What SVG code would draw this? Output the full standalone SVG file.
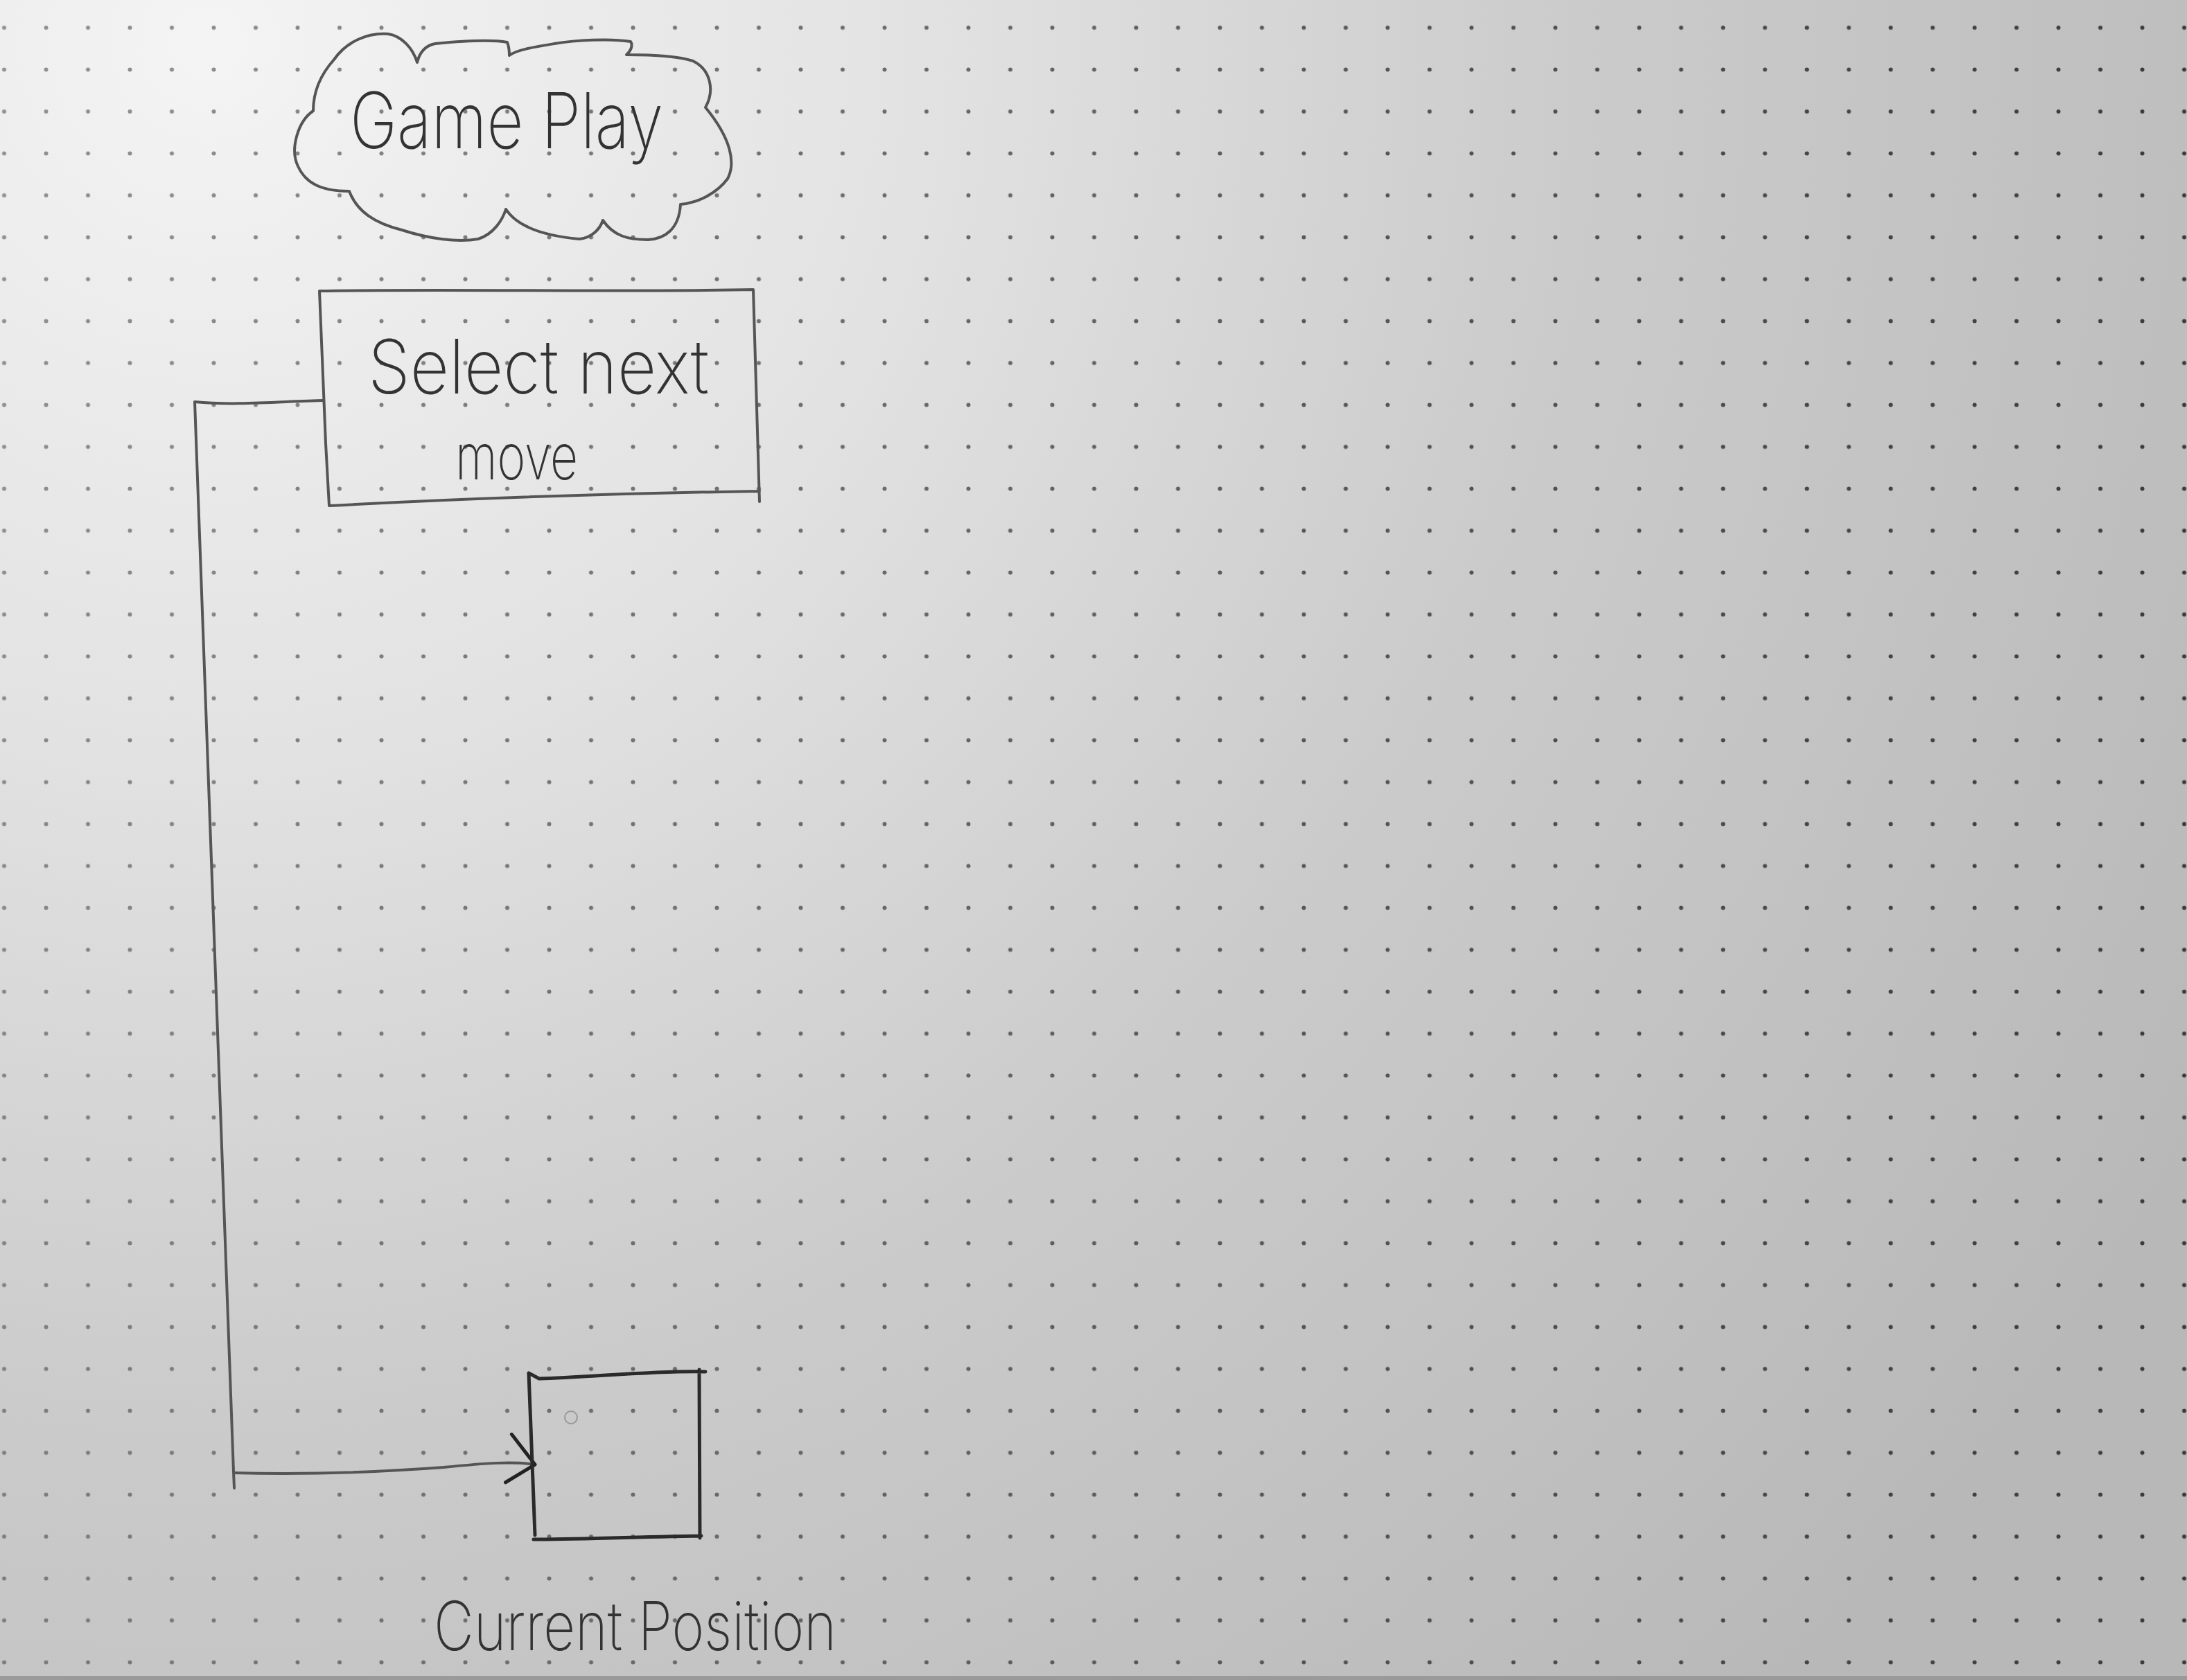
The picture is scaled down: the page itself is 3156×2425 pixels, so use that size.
<svg xmlns="http://www.w3.org/2000/svg" width="3156" height="2425" viewBox="0 0 3156 2425">
  <defs>
    <radialGradient id="paper" gradientUnits="userSpaceOnUse" cx="300" cy="60" r="3300">
      <stop offset="0" stop-color="#f4f4f4"/>
      <stop offset="0.3" stop-color="#e3e3e3"/>
      <stop offset="0.6" stop-color="#cbcbcb"/>
      <stop offset="1" stop-color="#b8b8b8"/>
    </radialGradient>
    <linearGradient id="dotfade" gradientUnits="userSpaceOnUse" x1="0" y1="0" x2="3156" y2="0">
      <stop offset="0" stop-color="#fff" stop-opacity="0.5"/>
      <stop offset="1" stop-color="#fff" stop-opacity="0.95"/>
    </linearGradient>
    <mask id="dotmask" maskUnits="userSpaceOnUse" x="0" y="0" width="3156" height="2425">
      <rect x="0" y="0" width="3156" height="2425" fill="url(#dotfade)"/>
    </mask>
    <pattern id="dots" patternUnits="userSpaceOnUse" x="-24.25" y="9.75" width="60.5" height="60.5">
      <circle cx="30.25" cy="30.25" r="3" fill="#333"/>
    </pattern>
    <marker id="chevron" markerUnits="userSpaceOnUse" viewBox="0 0 50 80" refX="46" refY="40" markerWidth="50" markerHeight="80" orient="auto" overflow="visible">
      <path d="M6,2 L46,40 L8,72" fill="none" stroke="#222" stroke-width="5" stroke-linecap="round" stroke-linejoin="round"/>
    </marker>
    <style>
      .pencil { fill: none; stroke: #555; stroke-width: 4; stroke-linecap: round; stroke-linejoin: round; }
      .dark { stroke: #2a2a2a; stroke-width: 5; }
      .hand { font-family: Inter, "Open Sans", "Liberation Sans", sans-serif; font-weight: 200; fill: #333; }
    </style>
  </defs>

  <rect x="0" y="0" width="3156" height="2425" fill="url(#paper)"/>
  <rect x="0" y="0" width="3156" height="2425" fill="url(#dots)" mask="url(#dotmask)"/>
  <rect x="0" y="2419" width="3156" height="6" fill="#9a9a9a"/>

  <g id="connectors">
    <path class="pencil" d="M467,578 C410,579 340,586 281,580 L337,2124 L338,2148"/>
    <path class="pencil" stroke="#666" stroke-width="6" d="M338,2126 C450,2129 560,2124 640,2118 C700,2112 740,2109 772,2114" marker-end="url(#chevron)"/>
  </g>

  <g id="game-play">
    <path class="pencil" stroke-width="3.5" d="M452,160 C430,175 418,215 430,240 C440,262 460,276 504,276 C515,305 540,322 580,332 C620,345 660,350 690,345 C712,338 725,318 730,302 C745,325 780,340 836,345 C855,343 866,330 870,318 C885,340 905,346 935,346 C960,345 980,330 982,295 C1010,292 1035,278 1050,258 C1062,235 1055,200 1018,155 C1032,130 1025,100 1000,88 C975,80 935,79 904,79 C912,72 913,64 910,60 C880,55 830,58 800,63 C770,68 745,72 735,80 C735,72 734,66 732,61 C710,57 660,60 628,63 C612,66 605,78 602,90 C596,70 580,52 560,49 C530,47 500,60 482,86 C465,105 452,130 452,160 Z"/>
    <text class="hand" x="505" y="214" font-size="112" textLength="452" lengthAdjust="spacingAndGlyphs">Game Play</text>
  </g>

  <g id="select-next-move">
    <path class="pencil" d="M461,420 C650,417 900,422 1087,418 L1096,724 M1096,709 C900,712 700,718 475,730 L470,640 L461,420"/>
    <text class="hand" x="531" y="568" font-size="108" textLength="492" lengthAdjust="spacingAndGlyphs">Select next</text>
    <text class="hand" x="657" y="692" font-size="92" textLength="177" lengthAdjust="spacingAndGlyphs">move</text>
  </g>

  <g id="current-position">
    <path class="pencil dark" d="M763,1982 L778,1990 C850,1988 950,1978 1018,1980 M1009,1977 L1010,2220 M1012,2217 C900,2219 820,2222 770,2222 M772,2216 L763,1982"/>
    <circle cx="824" cy="2046" r="9" fill="none" stroke="#999" stroke-width="2"/>
    <text class="hand" x="626" y="2382" font-size="98" fill="#1e1e1e" textLength="581" lengthAdjust="spacingAndGlyphs">Current Position</text>
  </g>
</svg>
